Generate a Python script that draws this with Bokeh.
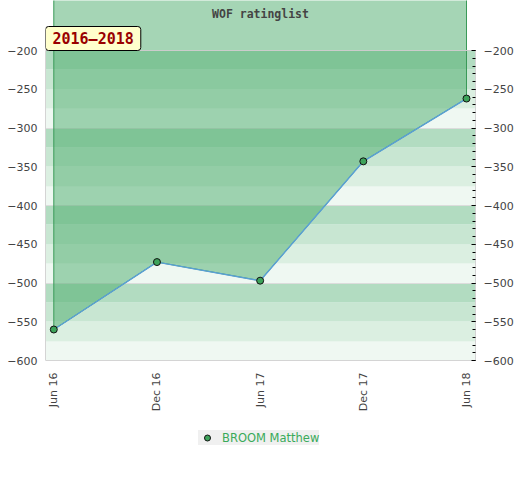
import math
from bokeh.plotting import figure
from bokeh.models import (Range1d, LinearAxis, SingleIntervalTicker, FixedTicker,
                          Label, Legend, LegendItem)
from bokeh.embed import file_html
from bokeh.resources import INLINE

# ---- data ----
dates = ["Jun 16", "Dec 16", "Jun 17", "Dec 17", "Jun 18"]
ratings = [-560, -473, -497, -343, -262]
series_name = "BROOM Matthew"
title_text = "WOF ratinglist"
period_text = "2016\u20132018"
y_min, y_max = -600, -200
band_step = 25
band_colors = ["#eff8f2", "#dbefe1", "#c8e6d2", "#b2dcc1"]  # bottom of each 100 block upward
grid_values = [-500, -400, -300]

xs = list(range(len(dates)))

# layout geometry
frame_w, frame_h = 430, 460
px_per_unit_y = 0.775
y_top = y_max + 50 / px_per_unit_y
y_bottom = y_min - 100 / px_per_unit_y
px_per_x = 103.2
x_start = -8.3 / px_per_x
x_end = (len(dates) - 1) + 9.0 / px_per_x

p = figure(frame_width=frame_w, frame_height=frame_h, output_backend="svg", toolbar_location=None,
           x_range=Range1d(x_start, x_end), y_range=Range1d(y_bottom, y_top),
           min_border_top=0, min_border_left=45, min_border_right=44,
           min_border_bottom=0, y_axis_location=None, x_axis_location=None)
p.outline_line_color = None
p.grid.visible = False
p.background_fill_color = "white"

# bands
b0 = list(range(y_min, y_max, band_step))
b1 = [b + band_step for b in b0]
bc = [band_colors[(i % 4)] for i in range(len(b0))]
p.hstrip(y0=b0, y1=b1, fill_color=bc, line_color=None)

# grid lines
p.hspan(y=grid_values, line_color="#dcdcdc", line_width=1)

# area above the line
ax = [xs[0]] + xs + [xs[-1]]
ay = [y_top + 50] + ratings + [y_top + 50]
p.patch(ax, ay, fill_color="#4bab6b", fill_alpha=0.5, line_color="#3a9a58", line_width=1)

# top boundary line
p.hspan(y=[y_max], line_color="#cccccc", line_width=1)

# line and markers
p.line(xs, ratings, line_color="#5a9fd6", line_width=1.4)
pts = p.scatter(xs, ratings, size=7, fill_color="#3da35a", line_color="#111111", line_width=1)

# axes
yticker = SingleIntervalTicker(interval=50, num_minor_ticks=5)
left = LinearAxis(ticker=yticker, bounds=(y_min, y_max))
left.axis_line_color = "#d4d4d4"
left.major_tick_line_color = None
left.minor_tick_line_color = None
left.major_tick_in = 0
left.major_tick_out = 0
left.minor_tick_in = 0
left.minor_tick_out = 0
left.major_label_standoff = 8
left.major_label_text_font = "DejaVu Sans"
left.major_label_text_font_size = "11px"
left.major_label_text_color = "#444444"
p.add_layout(left, "left")

right = LinearAxis(ticker=yticker, bounds=(y_min, y_max))
right.axis_line_color = "#d4d4d4"
right.major_tick_in = 4
right.major_tick_out = 0
right.minor_tick_in = 3
right.minor_tick_out = 0
right.major_tick_line_color = "black"
right.minor_tick_line_color = "black"
right.major_label_standoff = 8
right.major_label_text_font = "DejaVu Sans"
right.major_label_text_font_size = "11px"
right.major_label_text_color = "#444444"
p.add_layout(right, "right")

bottom = LinearAxis(ticker=FixedTicker(ticks=xs), fixed_location=y_min)
bottom.major_label_overrides = {i: d for i, d in zip(xs, dates)}
bottom.major_label_orientation = math.pi / 2
bottom.axis_line_color = "#d4d4d4"
bottom.major_tick_line_color = None
bottom.minor_tick_line_color = None
bottom.major_tick_in = 0
bottom.major_tick_out = 0
bottom.major_label_standoff = 12
bottom.major_label_text_font = "DejaVu Sans"
bottom.major_label_text_font_size = "11px"
bottom.major_label_text_color = "#444444"
p.add_layout(bottom, "below")

# title
p.add_layout(Label(x=(x_start + x_end) / 2, y=y_max + 37 / px_per_unit_y,
                   text=title_text, text_align="center", text_baseline="middle",
                   text_font="DejaVu Sans Mono", text_font_style="bold",
                   text_font_size="11.5px", text_color="#444444"))

# period label
p.add_layout(Label(x=x_start, y=y_max, text=period_text, text_align="left",
                   text_baseline="bottom", text_font="DejaVu Sans Mono",
                   text_font_style="bold", text_font_size="15px", text_color="#990000",
                   background_fill_color="#ffffcc", border_line_color="black",
                   border_line_width=1, padding=dict(left=7, right=7, top=3, bottom=3),
                   border_radius=3))

legend = Legend(items=[LegendItem(label=series_name, renderers=[pts])],
                location=(153, 15), orientation="horizontal",
                background_fill_color="#f0f0f0", background_fill_alpha=1,
                border_line_color=None, padding=1, margin=0,
                glyph_width=18, glyph_height=15, label_height=11,
                label_standoff=6, label_text_font="DejaVu Sans",
                label_text_font_size="11.5px", label_text_color="#3aaa5a")
p.add_layout(legend, "center")

open("out.html", "w").write(file_html(p, INLINE))
